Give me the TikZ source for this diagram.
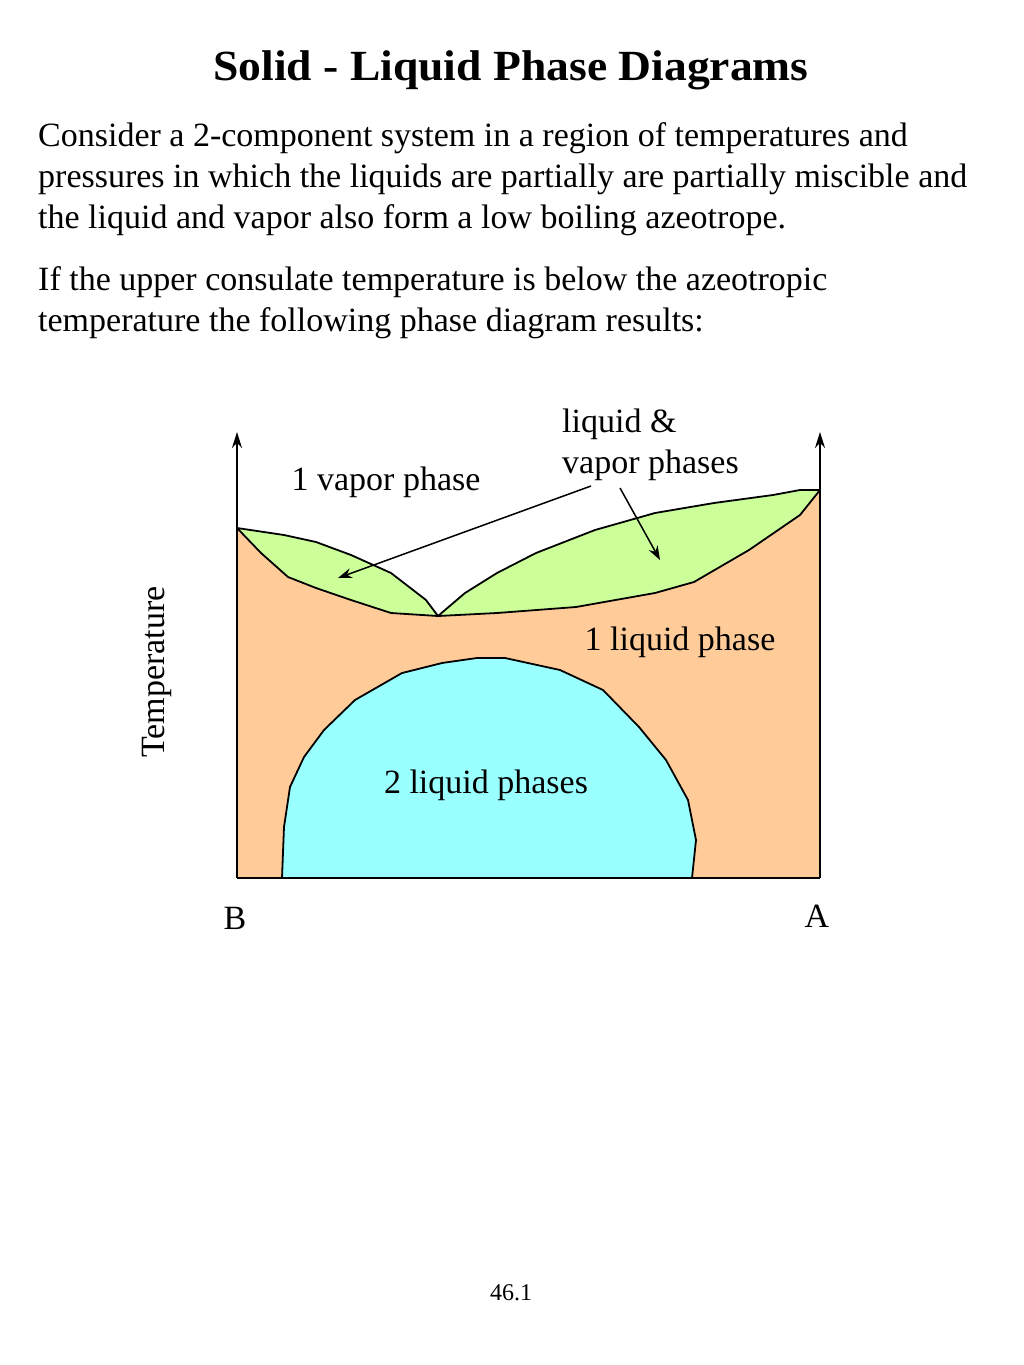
\documentclass[tikz,border=0pt]{standalone}
\usepackage{fontspec}
\setmainfont{Liberation Serif}
\usetikzlibrary{arrows.meta,positioning}

\definecolor{liqorange}{HTML}{FFCC99}
\definecolor{lensgreen}{HTML}{CCFF99}
\definecolor{domecyan}{HTML}{99FFFF}

\tikzset{
  bodytext/.style={anchor=base west, inner sep=0pt, font=\fontsize{34}{41}\selectfont},
  phaselabel/.style={inner sep=0pt, font=\fontsize{34}{41}\selectfont},
  phaseline/.style={draw=black, line width=1.8pt, line join=round},
  axisline/.style={-{Stealth[length=16pt,width=10pt]}, line width=1.8pt},
  leader/.style={-{Stealth[length=14pt,width=10pt]}, line width=1.5pt}
}

\begin{document}
\begin{tikzpicture}[x=1pt, y=-1pt]
  \useasboundingbox (0,0) rectangle (1024,1365);

  % heading and text
  \node [anchor=base, inner sep=0pt, xscale=1.06, font=\fontsize{43}{48}\selectfont\bfseries] (title) at (511,80) {Solid - Liquid Phase Diagrams};
  \node [bodytext] (line1) at (38,146) {Consider a 2-component system in a region of temperatures and};
  \node [bodytext] (line2) at (38,187) {pressures in which the liquids are partially are partially miscible and};
  \node [bodytext] (line3) at (38,228) {the liquid and vapor also form a low boiling azeotrope.};
  \node [bodytext] (line4) at (38,290) {If the upper consulate temperature is below the azeotropic};
  \node [bodytext] (line5) at (38,331) {temperature the following phase diagram results:};

  % one liquid phase region
  \fill [liqorange] (237,878) -- (237,528) -- (261,553) -- (288,577) -- (316,588) -- (351,600)
    -- (391,613) -- (438,616) -- (497,613) -- (576,607) -- (655,593) -- (694,582)
    -- (749,550) -- (800,515) -- (820,490) -- (820,878) -- cycle;

  % liquid & vapor lenses
  \filldraw [fill=lensgreen, phaseline] (237,528) -- (284,535) -- (316,542) -- (351,555)
    -- (391,573) -- (426,600) -- (438,616) -- (391,613) -- (351,600) -- (316,588)
    -- (288,577) -- (261,553) -- cycle;
  \filldraw [fill=lensgreen, phaseline] (438,616) -- (465,593) -- (497,573) -- (536,553)
    -- (595,530) -- (655,513) -- (714,503) -- (773,495) -- (800,490) -- (820,490)
    -- (800,515) -- (749,550) -- (694,582) -- (655,593) -- (576,607) -- (497,613) -- cycle;

  % two liquid phases dome
  \filldraw [fill=domecyan, phaseline] (282,878) -- (284,827) -- (290,787) -- (304,757)
    -- (324,730) -- (355,700) -- (402,673) -- (442,663) -- (477,658) -- (505,658)
    -- (560,670) -- (603,690) -- (639,727) -- (666,760) -- (688,800) -- (696,840)
    -- (692,878) -- cycle;

  % axes
  \coordinate (bottomB) at (237,878);
  \coordinate (bottomA) at (820,878);
  \coordinate (topB) at (237,432);
  \coordinate (topA) at (820,432);
  \draw [line width=1.8pt] (bottomB) -- (bottomA);
  \draw [axisline] (bottomB) -- (topB);
  \draw [axisline] (bottomA) -- (topA);

  \node [phaselabel, anchor=base] (labB) at (235,929) {B};
  \node [phaselabel, anchor=base] (labA) at (817,927) {A};
  \node [phaselabel, rotate=90] (temp) at (157,672) {Temperature};

  % region labels
  \node [phaselabel] (vapor) at (386,482) {1 vapor phase};
  \node [phaselabel] (oneliq) at (680,642) {1 liquid phase};
  \node [phaselabel] (twoliq) at (486,785) {2 liquid phases};
  \node [phaselabel, align=left, anchor=base west] (lvlabel) at (562,473) {liquid \&\\vapor phases};

  \coordinate (leftlens) at (338,578);
  \coordinate (rightlens) at (660,560);
  \coordinate (leadL) at (591,486);
  \coordinate (leadR) at (620,488);
  \draw [leader] (leadL) -- (leftlens);
  \draw [leader] (leadR) -- (rightlens);

  \node [inner sep=0pt, font=\fontsize{24}{28}\selectfont] (pageno) at (511,1293) {46.1};
\end{tikzpicture}
\end{document}
